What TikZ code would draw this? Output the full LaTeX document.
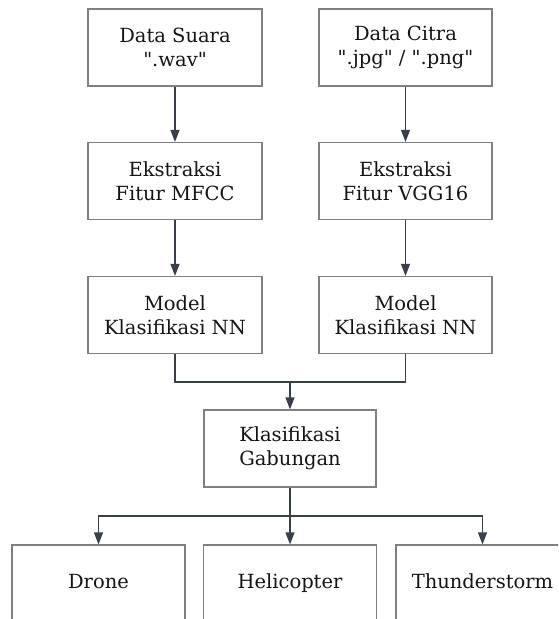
\documentclass[tikz,border=0pt]{standalone}
\usepackage{fontspec}
\setmainfont{DejaVu Serif}[Ligatures=TeXOff]
\usetikzlibrary{arrows.meta}
\definecolor{linec}{HTML}{3A404B}
\definecolor{boxc}{HTML}{808080}
\definecolor{txtc}{HTML}{141414}
\begin{document}
\begin{tikzpicture}[x=1pt,y=-1pt,
  box/.style={draw=boxc,line width=1.2pt,minimum width=174pt,minimum height=77pt,
    align=center,inner sep=0pt,text=txtc,font=\fontsize{19.5}{23.5}\selectfont},
  single/.style={box,text height=14.5pt,text depth=4.5pt},
  conn/.style={draw=linec,line width=1.2pt},
  arr/.style={conn,-{Triangle[width=9pt,length=12pt]}}]
\useasboundingbox (0,0) rectangle (558,619);
\clip (0,0) rectangle (558,619);
\node[box] (A) at (175,47.5) {Data Suara\\".wav"};
\node[box,minimum width=173pt] (B) at (405.5,47.5) {Data Citra\\".jpg" / ".png"};
\node[box] (C) at (175,181) {Ekstraksi\\Fitur MFCC};
\node[box,minimum width=173pt] (D) at (405.5,181) {Ekstraksi\\Fitur VGG16};
\node[box] (E) at (175,315) {Model\\Klasifikasi NN};
\node[box,minimum width=173pt] (F) at (405.5,315) {Model\\Klasifikasi NN};
\node[box,minimum width=172pt] (G) at (290,448.5) {Klasifikasi\\Gabungan};
\node[single,minimum width=173pt] (H1) at (98.5,583.5) {Drone};
\node[single,minimum width=173pt] (H2) at (290,583.5) {Helicopter};
\node[single,minimum width=173pt] (H3) at (482.5,583.5) {Thunderstorm};
\draw[arr] (A) -- (C);
\draw[arr] (B) -- (D);
\draw[arr] (C) -- (E);
\draw[arr] (D) -- (F);
\coordinate (m) at (290,382);
\draw[conn] (E.south) |- (m) -| (F.south);
\draw[arr] (m) -- (G.north);
\coordinate (s) at (290,516);
\draw[conn] (G.south) -- (s);
\draw[arr] (s) -| (H1.north);
\draw[arr] (s) -| (H3.north);
\draw[arr] (s) -- (H2.north);
\end{tikzpicture}
\end{document}
